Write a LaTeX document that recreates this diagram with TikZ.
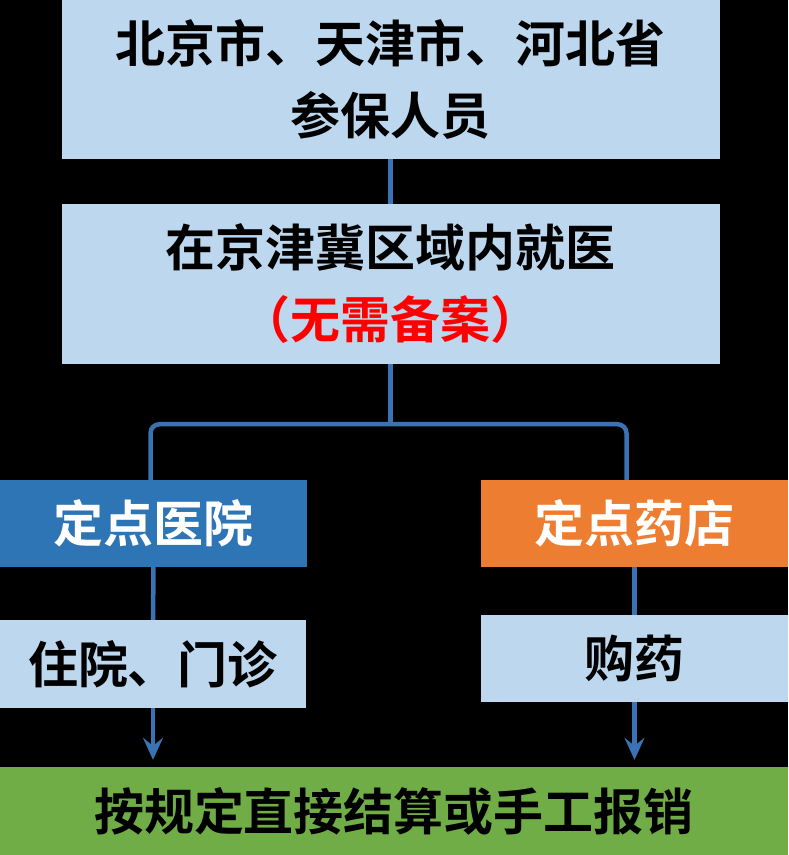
\documentclass[tikz,border=0pt]{standalone}
\usepackage{fontspec}
\newfontfamily\cjk{Noto Sans CJK SC}[BoldFont={Noto Sans CJK SC Bold}]
\usetikzlibrary{arrows.meta}
\definecolor{lightbox}{HTML}{BDD7EE}
\definecolor{darkblue}{HTML}{2E75B6}
\definecolor{orangebox}{HTML}{ED7D31}
\definecolor{greenbox}{HTML}{70AD47}
\definecolor{linecol}{HTML}{3A72B4}
\tikzset{
  box/.style={rectangle, inner sep=0pt, align=center, text=black,
    font=\cjk\bfseries\fontsize{50}{72}\selectfont},
  lbox/.style={box, fill=lightbox},
  conn/.style={draw=linecol, line width=4.5pt},
  arr/.style={conn, -{Stealth[length=22pt,width=20pt,inset=8pt]}, shorten >=7pt}
}
\begin{document}
\begin{tikzpicture}[x=1pt,y=-1pt]
\fill[black] (0,0) rectangle (788,855);
\useasboundingbox (0,0) rectangle (788,855);
\node[lbox, minimum width=658pt, minimum height=159pt] (b1) at (390.5,79.5) {北京市、天津市、河北省\\参保人员};
\node[lbox, minimum width=658pt, minimum height=160pt] (b2) at (390.5,284) {在京津冀区域内就医\\\textcolor{red}{（无需备案）}};
\node[box, fill=darkblue, text=white, minimum width=307pt, minimum height=87pt] (b3) at (153.5,523.5) {定点医院};
\node[box, fill=orangebox, text=white, minimum width=307pt, minimum height=87pt] (b4) at (634.5,523.5) {定点药店};
\node[lbox, minimum width=306pt, minimum height=88pt] (b5) at (153,664) {住院、门诊};
\node[lbox, minimum width=307pt, minimum height=87pt] (b6) at (634.5,658.5) {购药};
\node[box, fill=greenbox, minimum width=788pt, minimum height=88pt] (b7) at (394,811) {按规定直接结算或手工报销};
\coordinate (j) at ([yshift=-60pt]b2.south);
\draw[conn] (b1) -- (b2);
\draw[conn] (b2.south) -- (j);
\draw[conn, rounded corners=9pt] ([xshift=-3pt]b3.north) |- (j) -| ([xshift=-8pt]b4.north);
\draw[conn] (b3) -- (b5);
\draw[conn] (b4) -- (b6);
\draw[arr] (b5.south) -- (b5.south |- b7.north);
\draw[arr] (b6.south) -- (b6.south |- b7.north);
\end{tikzpicture}
\end{document}
